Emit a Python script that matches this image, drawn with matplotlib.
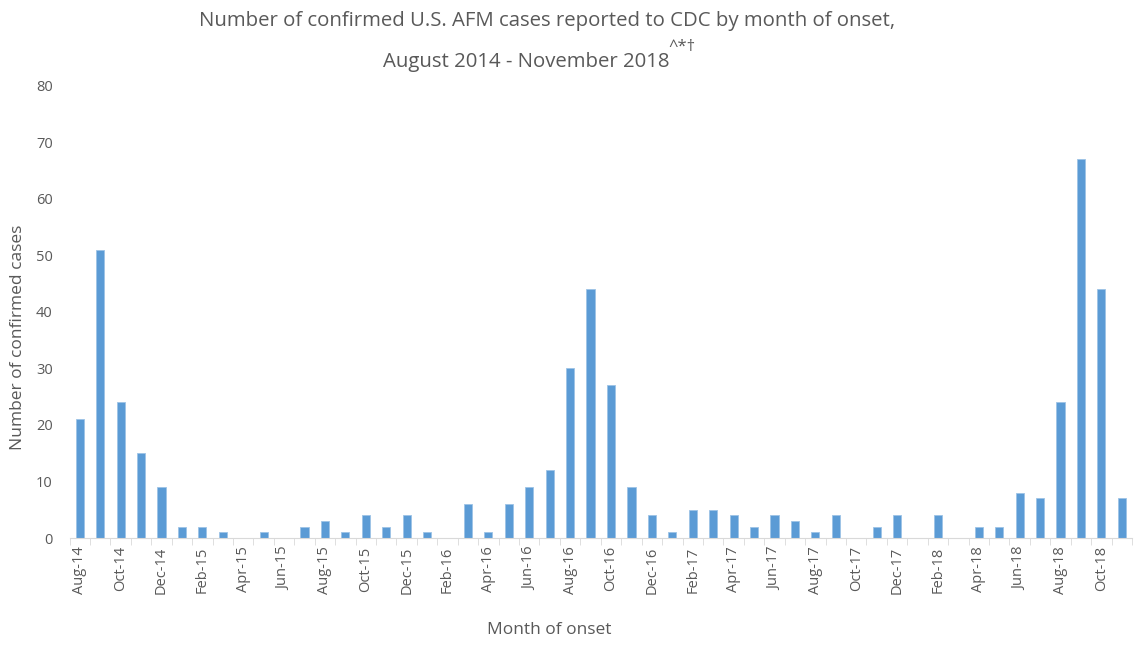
import matplotlib.pyplot as plt
import numpy as np

plt.rcParams["font.family"] = ["Open Sans", "DejaVu Sans"]

months = [
    "Aug-14", "Sep-14", "Oct-14", "Nov-14", "Dec-14",
    "Jan-15", "Feb-15", "Mar-15", "Apr-15", "May-15", "Jun-15", "Jul-15",
    "Aug-15", "Sep-15", "Oct-15", "Nov-15", "Dec-15",
    "Jan-16", "Feb-16", "Mar-16", "Apr-16", "May-16", "Jun-16", "Jul-16",
    "Aug-16", "Sep-16", "Oct-16", "Nov-16", "Dec-16",
    "Jan-17", "Feb-17", "Mar-17", "Apr-17", "May-17", "Jun-17", "Jul-17",
    "Aug-17", "Sep-17", "Oct-17", "Nov-17", "Dec-17",
    "Jan-18", "Feb-18", "Mar-18", "Apr-18", "May-18", "Jun-18", "Jul-18",
    "Aug-18", "Sep-18", "Oct-18", "Nov-18",
]
cases = [
    21, 51, 24, 15, 9,
    2, 2, 1, 0, 1, 0, 2,
    3, 1, 4, 2, 4,
    1, 0, 6, 1, 6, 9, 12,
    30, 44, 27, 9, 4,
    1, 5, 5, 4, 2, 4, 3,
    1, 4, 0, 2, 4,
    0, 4, 0, 2, 2, 8, 7,
    24, 67, 44, 7,
]

grey = "#595959"
fig = plt.figure(figsize=(11.4, 6.49), dpi=100)
ax = fig.add_axes([0.061, 0.171, 0.932, 0.697])

x = np.arange(len(months))
ax.bar(x, cases, width=0.4, color="#5B9BD5", edgecolor="#9DC3E6", linewidth=0.6)

ax.set_xlim(-0.5, len(months) - 0.5)
ax.set_ylim(0, 80)
ax.set_yticks(range(0, 81, 10))
ax.set_xticks(x[::2])
ax.set_xticklabels(months[::2], rotation=90)
ax.set_xticks(np.arange(-0.5, len(months), 1), minor=True)
ax.tick_params(axis="x", which="major", length=0, pad=6, labelsize=10.5, labelcolor=grey)
ax.tick_params(axis="x", which="minor", length=5, color="#D9D9D9")
ax.tick_params(axis="y", length=0, pad=12, labelsize=10.5, labelcolor=grey)

for side in ["top", "right", "left"]:
    ax.spines[side].set_visible(False)
ax.spines["bottom"].set_color("#D9D9D9")

fig.text(0.016, 0.481, "Number of confirmed cases", rotation=90, ha="center",
         va="center", fontsize=12.5, color=grey)
fig.text(0.482, 0.023, "Month of onset", ha="center", fontsize=12.5, color=grey)

fig.text(0.48, 0.967, "Number of confirmed U.S. AFM cases reported to CDC by month of onset,",
         ha="center", va="center", fontsize=14.7, color=grey)
fig.text(0.4615, 0.905, "August 2014 - November 2018", ha="center", va="center",
         fontsize=14.7, color=grey)
fig.text(0.586, 0.927, "^*†", ha="left", va="center", fontsize=12, color=grey)

fig.savefig("out.png", dpi=100)
